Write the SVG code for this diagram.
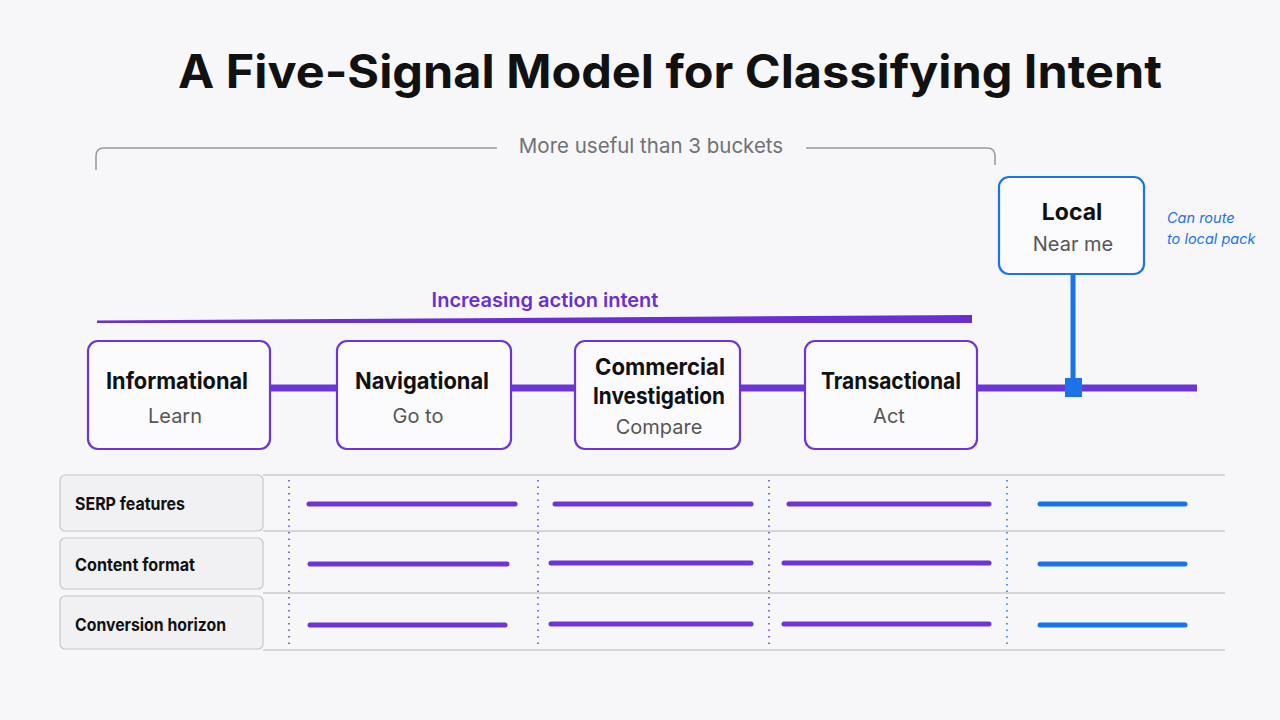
<svg xmlns="http://www.w3.org/2000/svg" width="1280" height="720" viewBox="0 0 1280 720">
<defs>
<style>
.bg{fill:#f7f7f9}
.title{font-family:Inter,"Liberation Sans",sans-serif;font-weight:700;font-size:46px;fill:#111}
.node{fill:#fbfbfd;stroke:#6c35d4;stroke-width:2.2}
.nodeLocal{fill:#fbfbfd;stroke:#1a73e8;stroke-width:2.2}
.nt{font-family:Inter,"Liberation Sans",sans-serif;font-weight:700;font-size:23px;fill:#111;text-anchor:middle}
.ns{font-family:Inter,"Liberation Sans",sans-serif;font-weight:400;font-size:20px;fill:#555;text-anchor:middle}
.lab{fill:#f1f1f3;stroke:#c6c6ca;stroke-width:1.2}
.lt{font-family:Inter,"Liberation Sans",sans-serif;font-weight:700;font-size:17.5px;fill:#111}
.hl{stroke:#cbcbcf;stroke-width:1.6}
.dot{stroke:#6c35d4;stroke-width:1.5;stroke-dasharray:1.5 5}
.dotb{stroke:#1a73e8;stroke-width:1.5;stroke-dasharray:1.5 5}
.bar{stroke:#6c35d4;stroke-width:5;stroke-linecap:round}
.barb{stroke:#1a73e8;stroke-width:5;stroke-linecap:round}
.conn{stroke:#6c35d4;stroke-width:7;fill:none}
</style>
</defs>
<rect class="bg" x="0" y="0" width="1280" height="720"/>
<text class="title" x="178" y="88" textLength="984" lengthAdjust="spacingAndGlyphs">A Five-Signal Model for Classifying Intent</text>

<g id="bracket">
<path d="M96,170 V156 Q96,148 104,148 H497 M806,148 H987 Q995,148 995,156 V165" fill="none" stroke="#9a9aa0" stroke-width="1.6"/>
<text x="651" y="153" font-family="Inter,'Liberation Sans',sans-serif" font-size="20.5" fill="#707075" text-anchor="middle">More useful than 3 buckets</text>
</g>

<g id="intent-axis">
<text x="545" y="307" font-family="Inter,'Liberation Sans',sans-serif" font-weight="600" font-size="20" fill="#6a2fd0" text-anchor="middle">Increasing action intent</text>
<polygon points="97,320.5 972,315 972,323 97,323" fill="#6a2fd0"/>
</g>

<g id="connectors">
<line class="conn" x1="270" y1="388" x2="337" y2="388"/>
<line class="conn" x1="511" y1="388" x2="575" y2="388"/>
<line class="conn" x1="740" y1="388" x2="805" y2="388"/>
<line class="conn" x1="977" y1="388" x2="1197" y2="388"/>
<line x1="1073" y1="274" x2="1073" y2="388" stroke="#1a73e8" stroke-width="5"/>
<rect x="1065" y="378" width="17" height="19" fill="#1a73e8"/>
</g>

<g id="node-informational">
<rect class="node" x="88" y="341" width="182" height="108" rx="10"/>
<text class="nt" x="177" y="389" textLength="142" lengthAdjust="spacingAndGlyphs">Informational</text>
<text class="ns" x="175" y="423">Learn</text>
</g>
<g id="node-navigational">
<rect class="node" x="337" y="341" width="174" height="108" rx="10"/>
<text class="nt" x="422" y="389" textLength="134" lengthAdjust="spacingAndGlyphs">Navigational</text>
<text class="ns" x="418" y="423">Go to</text>
</g>
<g id="node-commercial">
<rect class="node" x="575" y="341" width="165" height="108" rx="10"/>
<text class="nt" x="660" y="375" textLength="130" lengthAdjust="spacingAndGlyphs">Commercial</text>
<text class="nt" x="659" y="404" textLength="132" lengthAdjust="spacingAndGlyphs">Investigation</text>
<text class="ns" x="659" y="434">Compare</text>
</g>
<g id="node-transactional">
<rect class="node" x="805" y="341" width="172" height="108" rx="10"/>
<text class="nt" x="891" y="389" textLength="140" lengthAdjust="spacingAndGlyphs">Transactional</text>
<text class="ns" x="889" y="423">Act</text>
</g>
<g id="node-local">
<rect class="nodeLocal" x="999" y="177" width="145" height="97" rx="10"/>
<text class="nt" x="1072" y="220" font-size="26">Local</text>
<text class="ns" x="1073" y="251">Near me</text>
<text x="1167" y="223" font-family="Inter,'Liberation Sans',sans-serif" font-style="italic" font-size="14.5" fill="#1a73e8">Can route</text>
<text x="1167" y="244" font-family="Inter,'Liberation Sans',sans-serif" font-style="italic" font-size="14.5" fill="#1a73e8">to local pack</text>
</g>

<g id="table">
<line class="hl" x1="263" y1="475" x2="1225" y2="475"/>
<line class="hl" x1="263" y1="531" x2="1225" y2="531"/>
<line class="hl" x1="263" y1="593" x2="1225" y2="593"/>
<line class="hl" x1="263" y1="650" x2="1225" y2="650"/>
<line class="dot" x1="289" y1="480" x2="289" y2="646"/>
<line class="dot" x1="538" y1="480" x2="538" y2="646"/>
<line class="dot" x1="769" y1="480" x2="769" y2="646"/>
<line class="dotb" x1="1007" y1="480" x2="1007" y2="646"/>
</g>
<g id="row-serp">
<rect class="lab" x="60" y="475" width="203" height="56" rx="5"/>
<text class="lt" x="75" y="510" textLength="110" lengthAdjust="spacingAndGlyphs">SERP features</text>
<line class="bar" x1="309" y1="504" x2="515" y2="504"/>
<line class="bar" x1="555" y1="504" x2="751" y2="504"/>
<line class="bar" x1="789" y1="504" x2="989" y2="504"/>
<line class="barb" x1="1040" y1="504" x2="1185" y2="504"/>
</g>
<g id="row-content">
<rect class="lab" x="60" y="538" width="203" height="51" rx="5"/>
<text class="lt" x="75" y="571" textLength="120" lengthAdjust="spacingAndGlyphs">Content format</text>
<line class="bar" x1="310" y1="564" x2="507" y2="564"/>
<line class="bar" x1="551" y1="563" x2="751" y2="563"/>
<line class="bar" x1="784" y1="563" x2="989" y2="563"/>
<line class="barb" x1="1040" y1="564" x2="1185" y2="564"/>
</g>
<g id="row-conversion">
<rect class="lab" x="60" y="596" width="203" height="53" rx="5"/>
<text class="lt" x="75" y="631" textLength="151" lengthAdjust="spacingAndGlyphs">Conversion horizon</text>
<line class="bar" x1="310" y1="625" x2="505" y2="625"/>
<line class="bar" x1="551" y1="624" x2="751" y2="624"/>
<line class="bar" x1="784" y1="624" x2="989" y2="624"/>
<line class="barb" x1="1040" y1="625" x2="1185" y2="625"/>
</g>
</svg>
